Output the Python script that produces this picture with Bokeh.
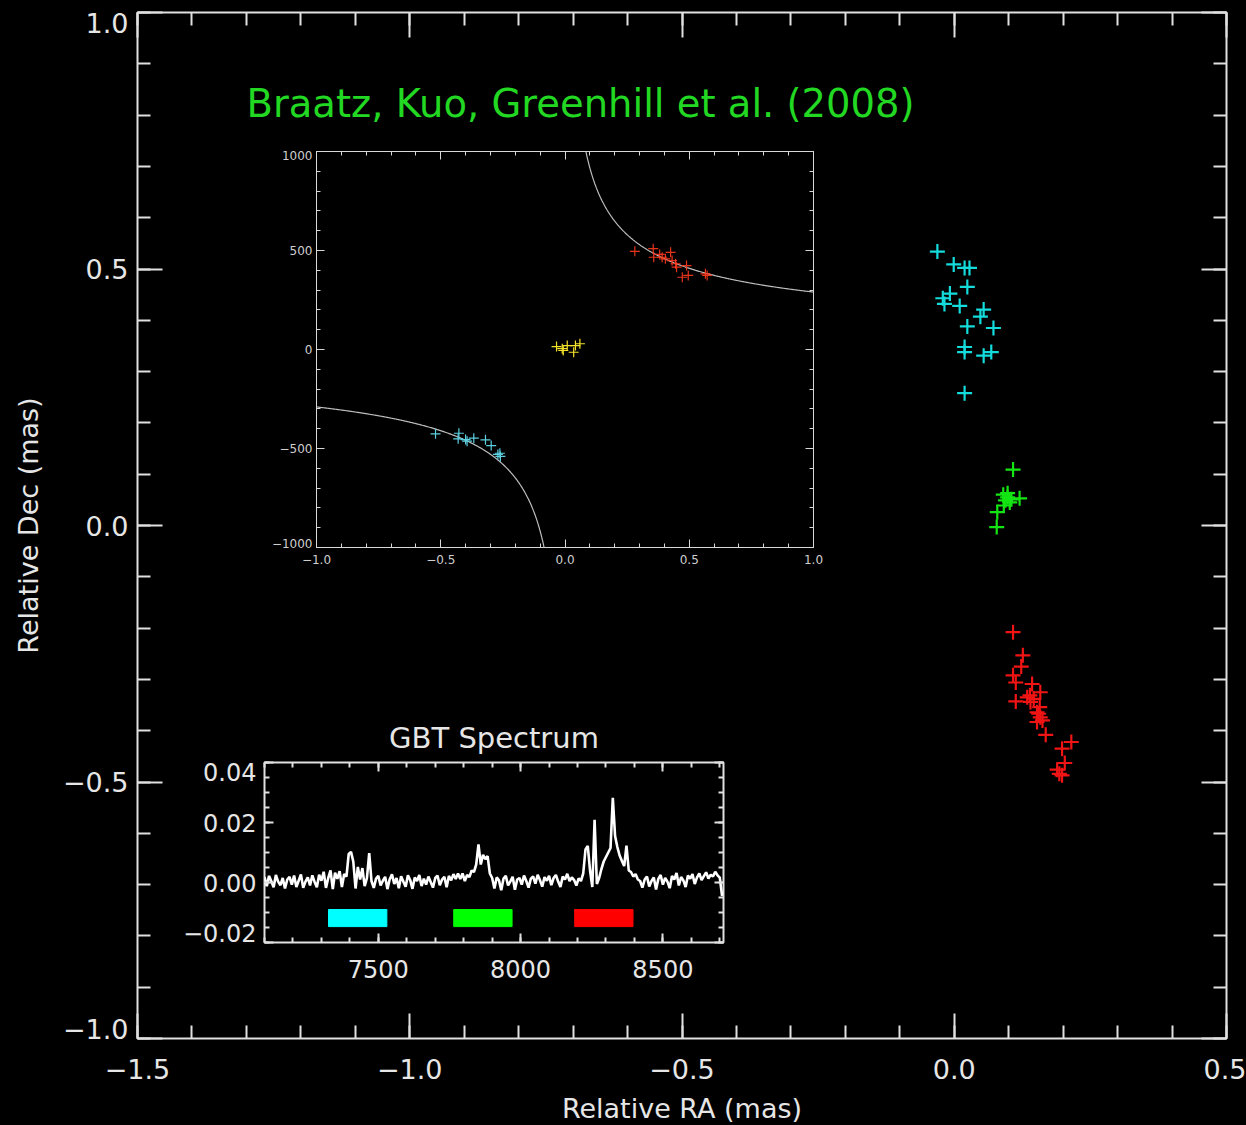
import numpy as np
from bokeh.plotting import figure
from bokeh.models import Range1d, LinearAxis, FixedTicker, Label
from bokeh.embed import file_html
from bokeh.resources import INLINE

# ---------------- main map: maser spot positions (mas) ----------------
cyan_ra = [-0.031, -0.001, 0.019, 0.028, 0.024, -0.008, -0.021, -0.018, 0.010,
           0.054, 0.048, 0.024, 0.072, 0.019, 0.019, 0.054, 0.068, 0.019]
cyan_dec = [0.534, 0.509, 0.502, 0.502, 0.465, 0.452, 0.443, 0.432, 0.428,
            0.421, 0.407, 0.388, 0.385, 0.348, 0.338, 0.331, 0.338, 0.258]
green_ra = [0.108, 0.090, 0.098, 0.120, 0.094, 0.102, 0.091, 0.079, 0.078, 0.098, 0.105]
green_dec = [0.109, 0.060, 0.063, 0.053, 0.049, 0.045, 0.039, 0.026, -0.003, 0.055, 0.051]
red_ra = [0.108, 0.126, 0.123, 0.108, 0.113, 0.143, 0.113, 0.139, 0.146, 0.158,
          0.157, 0.152, 0.158, 0.152, 0.162, 0.168, 0.215, 0.198, 0.203, 0.189,
          0.193, 0.198, 0.134, 0.140, 0.155]
red_dec = [-0.208, -0.253, -0.275, -0.292, -0.306, -0.309, -0.343, -0.331, -0.338, -0.325,
           -0.354, -0.364, -0.374, -0.383, -0.380, -0.408, -0.422, -0.435, -0.463, -0.476,
           -0.484, -0.487, -0.335, -0.344, -0.367]

main_xticks = [-1.5, -1.0, -0.5, 0.0, 0.5]
main_xlabels = ["\u22121.5", "\u22121.0", "\u22120.5", "0.0", "0.5"]
main_yticks = [-1.0, -0.5, 0.0, 0.5, 1.0]
main_ylabels = ["\u22121.0", "\u22120.5", "0.0", "0.5", "1.0"]
main_ylabel_at = [-0.982, -0.5, 0.0, 0.5, 0.9805]   # edge labels nudged inside, as drawn

# ---------------- inset: position-velocity diagram ----------------
pv_red_x = [0.281, 0.355, 0.357, 0.381, 0.391, 0.404, 0.425, 0.431, 0.445, 0.449,
            0.489, 0.472, 0.496, 0.565, 0.572]
pv_red_v = [496, 509, 466, 480, 466, 458, 491, 449, 433, 416, 424, 365, 374, 382, 374]
pv_blue_x = [-0.521, -0.427, -0.430, -0.400, -0.394, -0.367, -0.320, -0.297, -0.270, -0.260, -0.262]
pv_blue_v = [-426, -423, -451, -455, -463, -448, -456, -485, -530, -540, -524]
pv_sys_x = [-0.034, -0.007, 0.009, 0.035, 0.042, 0.060, -0.011]
pv_sys_v = [15, -5, 20, -14, 20, 29, 4]
kepler_k = 290.0  # km/s at 1 mas (Keplerian model curve)

pv_xticks = [-1.0, -0.5, 0.0, 0.5, 1.0]
pv_xlabels = ["\u22121.0", "\u22120.5", "0.0", "0.5", "1.0"]
pv_yticks = [-1000, -500, 0, 500, 1000]
pv_ylabels = ["\u22121000", "\u2212500", "0", "500", "1000"]
pv_ylabel_at = [-980, -500, 0, 500, 980]

# ---------------- inset: GBT spectrum ----------------
spec_v0 = 7100.0
spec_dv = 8.0
spec_flux = [
    0.0018, -0.0012, 0.0022, 0.0004, -0.0016, 0.0025, 0.0003, -0.0009, 0.0015, -0.0020,
    0.0010, 0.0019, -0.0007, 0.0023, -0.0015, 0.0006, 0.0027, -0.0018, 0.0003, 0.0017,
    -0.0010, 0.0024, 0.0002, -0.0016,
    0.0026, 0.0006, 0.0036, -0.0018, 0.0015, 0.0040, -0.0022, 0.0033, 0.0012, 0.0038,
    -0.0015, 0.0028, 0.0020,
    0.0095, 0.0102, 0.0070, -0.0020, 0.0052, 0.0010, 0.0048, -0.0012, 0.0015, 0.0098, 0.0005,
    -0.0018, 0.0013, 0.0022, -0.0010, 0.0006, 0.0019, -0.0022, 0.0011, 0.0027, -0.0005,
    0.0015, -0.0019, 0.0021, 0.0003, -0.0014, 0.0024, 0.0008, -0.0021, 0.0017, 0.0005,
    0.0025, -0.0012, 0.0013, -0.0007, 0.0020, 0.0002, -0.0017, 0.0015, 0.0023, -0.0009,
    0.0010, 0.0019, -0.0016, 0.0022, 0.0007, 0.0028, 0.0012, 0.0030,
    0.0012, 0.0030, 0.0005, 0.0025, 0.0018, 0.0040, 0.0035, 0.0060, 0.0127, 0.0060,
    0.0092, 0.0078, 0.0088, 0.0030, 0.0015,
    -0.0020, 0.0017, 0.0007, -0.0026, 0.0013, 0.0022, -0.0010, 0.0004, 0.0019, -0.0024,
    0.0010, 0.0015, -0.0007, 0.0023, 0.0005, -0.0017, 0.0013, 0.0020, -0.0004, 0.0026,
    0.0008, -0.0014, 0.0018, 0.0006, 0.0022, -0.0009, 0.0015, 0.0025, 0.0003, -0.0015,
    0.0020, 0.0010, 0.0029, 0.0005, 0.0017,
    0.0008, -0.0010, 0.0014, 0.0005, 0.0030, 0.0110, 0.0122, 0.0040, -0.0015, 0.0209,
    -0.0005, 0.0015, 0.0045, 0.0070, 0.0085, 0.0100, 0.0115, 0.0282, 0.0155, 0.0118,
    0.0090, 0.0072, 0.0055, 0.0123, 0.0040, 0.0035, 0.0020, 0.0028, 0.0010, 0.0005,
    -0.0017, 0.0010, 0.0020, -0.0013, 0.0005, 0.0017, -0.0023, 0.0012, 0.0025, -0.0007,
    0.0015, 0.0003, -0.0019, 0.0022, 0.0010, 0.0032, -0.0010, 0.0018, 0.0007, -0.0015,
    0.0023, 0.0013, 0.0028, -0.0005, 0.0017, 0.0030, 0.0008, 0.0021, 0.0034, 0.0013,
    0.0026, 0.0020, 0.0036, 0.0024, 0.0016, -0.0045,
]
band_lo = [7325, 7765, 8190]
band_hi = [7530, 7970, 8395]
band_bottom = [-0.0147, -0.0147, -0.0147]
band_top = [-0.0090, -0.0090, -0.0090]
band_colors = ["#00ffff", "#00ff00", "#ff0000"]

spec_xticks = [7500, 8000, 8500]
spec_xlabels = ["7500", "8000", "8500"]
spec_yticks = [-0.02, 0.0, 0.02, 0.04]
spec_ylabels = ["\u22120.02", "0.00", "0.02", "0.04"]
spec_ylabel_at = [-0.0167, 0.0, 0.02, 0.037]

FONT = "DejaVu Sans"
TXT = "#e6e6e6"
LINE = "#e0e0e0"


def style_axis(ax, ticks, labels, minor, maj_len, min_len, lw, fsize, standoff, color=LINE):
    ax.ticker = FixedTicker(ticks=ticks, minor_ticks=minor)
    ax.axis_line_color = None
    ax.major_tick_in = maj_len
    ax.major_tick_out = 0
    ax.minor_tick_in = min_len
    ax.minor_tick_out = 0
    ax.major_tick_line_color = color if maj_len > 0 else None
    ax.minor_tick_line_color = color
    ax.major_tick_line_width = lw
    ax.minor_tick_line_width = lw
    ax.major_label_overrides = {t: l for t, l in zip(ticks, labels)}
    ax.major_label_text_font = FONT
    ax.major_label_text_font_size = fsize
    ax.major_label_text_color = TXT
    ax.major_label_standoff = standoff


def tick_only_axis(positions, length, lw, color=LINE):
    """Unlabelled axis that only draws inward tick marks."""
    ax = LinearAxis(ticker=FixedTicker(ticks=[], minor_ticks=positions))
    ax.axis_line_color = None
    ax.major_tick_line_color = None
    ax.minor_tick_in = length
    ax.minor_tick_out = 0
    ax.minor_tick_line_color = color
    ax.minor_tick_line_width = lw
    ax.major_label_standoff = 0
    return ax


def mirror_ticks(p, side, minor, major, min_len, maj_len, lw, color=LINE):
    for pos, ln in ((minor, min_len), (major, maj_len)):
        p.add_layout(tick_only_axis(pos, ln, lw, color), side)


def left_ticks_inner(p, minor, major, min_len, maj_len, lw, color=LINE):
    """Tick marks on the left edge, kept next to the frame, labels axis outside."""
    a1 = tick_only_axis(minor, min_len, lw, color)
    a2 = tick_only_axis(major, maj_len, lw, color)
    p.left = [a1, a2] + list(p.left)


def base_fig(**kw):
    p = figure(output_backend="svg", toolbar_location=None,
               background_fill_color="black", border_fill_color="black", **kw)
    p.xgrid.visible = False
    p.ygrid.visible = False
    return p


# ======================= main figure =======================
main = base_fig(frame_width=1089, frame_height=1026,
                x_range=Range1d(-1.5, 0.5), y_range=Range1d(-1.0, 1.0),
                min_border_left=137, min_border_top=12, min_border_right=20,
                min_border_bottom=87, outline_line_color=LINE, outline_line_width=2)
mx_minor = [round(v, 2) for v in np.arange(-1.5, 0.501, 0.1)]
my_minor = [round(v, 2) for v in np.arange(-1.0, 1.001, 0.1)]
style_axis(main.xaxis[0], main_xticks, main_xlabels, mx_minor, 25, 13, 2, "27px", 20)
style_axis(main.yaxis[0], main_ylabel_at, main_ylabels, [], 0, 0, 2, "27px", 9)
main.xaxis[0].axis_label = "Relative RA (mas)"
main.yaxis[0].axis_label = "Relative Dec (mas)"
for ax in (main.xaxis[0], main.yaxis[0]):
    ax.axis_label_text_font = FONT
    ax.axis_label_text_font_size = "27px"
    ax.axis_label_text_font_style = "normal"
    ax.axis_label_text_color = TXT
main.xaxis[0].axis_label_standoff = 11
main.yaxis[0].axis_label_standoff = 16
left_ticks_inner(main, my_minor, main_yticks, 13, 25, 2)
mirror_ticks(main, "above", mx_minor, main_xticks, 13, 25, 2)
mirror_ticks(main, "right", my_minor, main_yticks, 13, 25, 2)

main.scatter(cyan_ra, cyan_dec, marker="cross", size=15, line_width=2.2, color="#14dcdc")
main.scatter(green_ra, green_dec, marker="cross", size=15, line_width=2.2, color="#14e614")
main.scatter(red_ra, red_dec, marker="cross", size=15, line_width=2.2, color="#f01414")
main.add_layout(Label(x=-1.2998, y=0.8226, text="Braatz, Kuo, Greenhill et al. (2008)",
                      text_font=FONT, text_font_size="38.5px", text_color="#22d822",
                      text_baseline="middle", text_align="left"))

# ======================= inset: p-v diagram =======================
PVC = "#d8d8d8"
pv = base_fig(frame_width=497, frame_height=396,
              x_range=Range1d(-1.0, 1.0), y_range=Range1d(-1000, 1000),
              min_border_left=54, min_border_top=10, min_border_right=17,
              min_border_bottom=26, outline_line_color=PVC, outline_line_width=1)
pvx_minor = [round(v, 2) for v in np.arange(-1.0, 1.001, 0.1)]
pvy_minor = list(range(-1000, 1001, 100))
style_axis(pv.xaxis[0], pv_xticks, pv_xlabels, pvx_minor, 8, 4, 1, "12px", 7, PVC)
style_axis(pv.yaxis[0], pv_ylabel_at, pv_ylabels, [], 0, 0, 1, "12px", 4, PVC)
for ax in (pv.xaxis[0], pv.yaxis[0]):
    ax.major_label_text_color = "#cfcfcf"
left_ticks_inner(pv, pvy_minor, pv_yticks, 4, 8, 1, PVC)
mirror_ticks(pv, "above", pvx_minor, pv_xticks, 4, 8, 1, PVC)
mirror_ticks(pv, "right", pvy_minor, pv_yticks, 4, 8, 1, PVC)

xr = np.linspace(0.05, 1.0, 300)
xl = np.linspace(-1.0, -0.05, 300)
pv.line(xr, kepler_k / np.sqrt(xr), color="#bdbdbd", line_width=1.2)
pv.line(xl, -kepler_k / np.sqrt(-xl), color="#bdbdbd", line_width=1.2)
pv.scatter(pv_red_x, pv_red_v, marker="cross", size=10, line_width=1.2, color="#ff3a1e", alpha=0.9)
pv.scatter(pv_blue_x, pv_blue_v, marker="cross", size=10, line_width=1.2, color="#5ccfe0")
pv.scatter(pv_sys_x, pv_sys_v, marker="cross", size=10, line_width=1.2, color="#f2e22a")
pv.styles = {"position": "absolute", "left": "262px", "top": "141px"}

# ======================= inset: GBT spectrum =======================
spec = base_fig(frame_width=459, frame_height=180,
                x_range=Range1d(7100, 8713), y_range=Range1d(-0.02, 0.04),
                min_border_left=92, min_border_top=52, min_border_right=10,
                min_border_bottom=50, outline_line_color=LINE, outline_line_width=2,
                title="GBT Spectrum")
spec.title.text_font = FONT
spec.title.text_font_size = "29px"
spec.title.text_font_style = "normal"
spec.title.text_color = TXT
spec.title.align = "center"
spec.title.standoff = 16
sx_minor = list(range(7100, 8701, 100))
sy_minor = [round(v, 3) for v in np.arange(-0.02, 0.0401, 0.005)]
style_axis(spec.xaxis[0], spec_xticks, spec_xlabels, sx_minor, 9, 5, 2, "24px", 17)
style_axis(spec.yaxis[0], spec_ylabel_at, spec_ylabels, [], 0, 0, 2, "24px", 8)
left_ticks_inner(spec, sy_minor, spec_yticks, 5, 9, 2)
mirror_ticks(spec, "above", sx_minor, spec_xticks, 5, 9, 2)
mirror_ticks(spec, "right", sy_minor, spec_yticks, 5, 9, 2)

spec_vel = spec_v0 + spec_dv * np.arange(len(spec_flux))
spec.line(spec_vel, spec_flux, color="white", line_width=2.6)
spec.quad(left=band_lo, right=band_hi, bottom=band_bottom, top=band_top,
          fill_color=band_colors, line_color=band_colors, line_width=1)
spec.styles = {"position": "absolute", "left": "172px", "top": "710px"}

html = file_html([main, pv, spec], INLINE, title="Maser disk")
html = html.replace("</head>", "<style>html,body{background:#000;overflow:hidden;margin:0;}</style></head>", 1)
open("out.html", "w").write(html)
